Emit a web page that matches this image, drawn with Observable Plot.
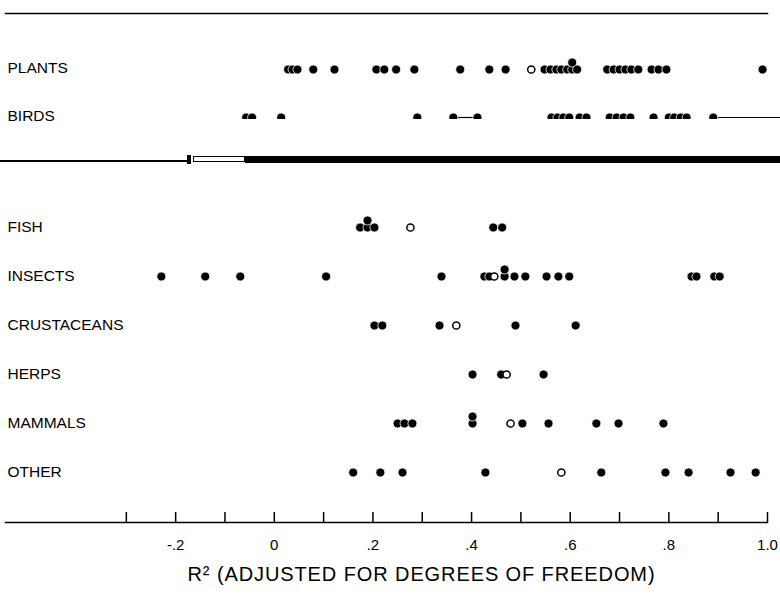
<!DOCTYPE html>
<html>
<head>
<meta charset="utf-8">
<script src="https://cdn.jsdelivr.net/npm/d3@7"></script>
<script src="https://cdn.jsdelivr.net/npm/@observablehq/plot@0.6"></script>
<style>
  html, body { margin: 0; padding: 0; background: #fff; }
  #wrap { width: 780px; height: 602px; position: relative; overflow: hidden; font-family: "Liberation Sans", Arial, sans-serif; }
  #brk { position: relative; width: 780px; height: 50px; }
  #brk div { position: absolute; background: #000; }
  svg { display: block; }
  #bottom svg > g:last-of-type text { letter-spacing: 0.9px; }
</style>
</head>
<body>
<div id="wrap">
  <div id="top"></div>
  <div id="brk">
    <div style="left:0;top:40px;width:187px;height:2px;"></div>
    <div style="left:187px;top:35px;width:4px;height:9px;"></div>
    <div style="left:193px;top:36px;width:52px;height:6px;background:#fff;border:1.5px solid #000;box-sizing:border-box;"></div>
    <div style="left:245px;top:36px;width:535px;height:7px;"></div>
  </div>
  <div id="bottom"></div>
</div>
<script>
// ---- data ----
const categories = ["PLANTS", "BIRDS", "FISH", "INSECTS", "CRUSTACEANS", "HERPS", "MAMMALS", "OTHER"];

const plantsFilled = [0.028, 0.037, 0.047, 0.079, 0.122, 0.207, 0.223, 0.247, 0.284, 0.377, 0.436, 0.469,
  0.548, 0.56, 0.572, 0.582, 0.594, 0.604, 0.614, 0.675, 0.688, 0.70, 0.712, 0.724, 0.738, 0.765, 0.779, 0.795, 0.99];
const plantsOpen = [0.521];
const plantsStacked = [0.604];

const birdsFilled = [-0.057, -0.045, 0.014, 0.29, 0.363, 0.412, 0.562, 0.574, 0.586, 0.598, 0.619, 0.633,
  0.68, 0.694, 0.708, 0.722, 0.769, 0.80, 0.811, 0.824, 0.836, 0.89];
const birdsOpen = [];
const birdsStacked = [];
// thin connecting lines visible on the (cut-off) BIRDS row: [from, to]
const birdsLineFrom = [0.363, 0.89];
const birdsLineTo = [0.412, 1.03];

const fishFilled = [0.174, 0.189, 0.203, 0.444, 0.462];
const fishOpen = [0.276];
const fishStacked = [0.189];

const insectsFilled = [-0.229, -0.14, -0.069, 0.105, 0.339, 0.426, 0.436, 0.467, 0.487, 0.509, 0.552, 0.576, 0.598,
  0.846, 0.856, 0.892, 0.903];
const insectsOpen = [0.446];
const insectsStacked = [0.467];

const crustaceansFilled = [0.203, 0.219, 0.335, 0.489, 0.611];
const crustaceansOpen = [0.369];
const crustaceansStacked = [];

const herpsFilled = [0.402, 0.46, 0.546];
const herpsOpen = [0.471];
const herpsStacked = [];

const mammalsFilled = [0.25, 0.264, 0.28, 0.402, 0.503, 0.556, 0.653, 0.698, 0.789];
const mammalsOpen = [0.479];
const mammalsStacked = [0.402];

const otherFilled = [0.16, 0.215, 0.26, 0.428, 0.663, 0.793, 0.84, 0.925, 0.976];
const otherOpen = [0.582];
const otherStacked = [];

const tickValues = [-0.3, -0.2, -0.1, 0, 0.1, 0.2, 0.3, 0.4, 0.5, 0.6, 0.7, 0.8, 0.9, 1.0];
const labelValues = [-0.2, 0, 0.2, 0.4, 0.6, 0.8, 1.0];
const labelTexts = ["-.2", "0", ".2", ".4", ".6", ".8", "1.0"];
const xTitle = "R\u00B2 (ADJUSTED FOR DEGREES OF FREEDOM)";

// ---- tables built from the arrays ----
const filledByCat = [plantsFilled, birdsFilled, fishFilled, insectsFilled, crustaceansFilled, herpsFilled, mammalsFilled, otherFilled];
const openByCat = [plantsOpen, birdsOpen, fishOpen, insectsOpen, crustaceansOpen, herpsOpen, mammalsOpen, otherOpen];
const stackedByCat = [plantsStacked, birdsStacked, fishStacked, insectsStacked, crustaceansStacked, herpsStacked, mammalsStacked, otherStacked];
const toRows = (arrs) => categories.flatMap((c, i) => arrs[i].map(v => ({cat: c, v})));
const filledRows = toRows(filledByCat);
const openRows = toRows(openByCat);
const stackedRows = toRows(stackedByCat);
const birdLines = birdsLineFrom.map((a, i) => ({cat: "BIRDS", x1: a, x2: birdsLineTo[i]}));
const labelMap = new Map(labelValues.map((v, i) => [v, labelTexts[i]]));

const topCats = categories.slice(0, 2);
const bottomCats = categories.slice(2);
const xDomain = [-0.545, 1.0];
const font = "Liberation Sans, Arial, sans-serif";
const labelSize = 15.5;

function dotMarks(cats, clip) {
  const inCats = d => cats.includes(d.cat);
  return [
    Plot.dot(filledRows.filter(inCats), {x: "v", y: "cat", r: 4.5, fill: "#000", stroke: "#fff", strokeWidth: 0.8, clip}),
    Plot.dot(stackedRows.filter(inCats), {x: "v", y: "cat", r: 4.5, dy: -7, fill: "#000", stroke: "#fff", strokeWidth: 0.8, clip}),
    Plot.dot(openRows.filter(inCats), {x: "v", y: "cat", r: 3.6, fill: "#fff", stroke: "#000", strokeWidth: 1.5, clip})
  ];
}

const topChart = Plot.plot({
  width: 780, height: 120,
  marginTop: 13, marginBottom: 1, marginLeft: 5, marginRight: 13,
  style: {fontFamily: font, background: "#fff", color: "#000", overflow: "visible"},
  x: {domain: xDomain, axis: null},
  y: {type: "point", domain: topCats, range: [69, 117], padding: 0, axis: null},
  marks: [
    Plot.frame({anchor: "top", stroke: "#000", strokeWidth: 1.5}),
    Plot.ruleY(birdLines, {y: "cat", x1: "x1", x2: "x2", stroke: "#000", strokeWidth: 1.2}),
    Plot.text(topCats, {y: d => d, text: d => d, frameAnchor: "left", textAnchor: "start", dx: 2, dy: -1, fontSize: labelSize, fill: "#000"}),
    ...dotMarks(topCats, true)
  ]
});
document.getElementById("top").appendChild(topChart);

const bottomChart = Plot.plot({
  width: 780, height: 432,
  marginTop: 20, marginBottom: 80, marginLeft: 5, marginRight: 13,
  style: {fontFamily: font, background: "#fff", color: "#000"},
  x: {domain: xDomain},
  y: {type: "point", domain: bottomCats, range: [56, 303], padding: 0, axis: null},
  marks: [
    Plot.frame({anchor: "bottom", stroke: "#000", strokeWidth: 1.5}),
    Plot.tickX(tickValues, {x: d => d, insetTop: 322, stroke: "#000", strokeWidth: 1.5}),
    Plot.axisX(labelValues, {tickSize: 0, tickPadding: 17, tickFormat: d => labelMap.get(d), fontSize: 15, fill: "#000", label: null}),
    Plot.text(bottomCats, {y: d => d, text: d => d, frameAnchor: "left", textAnchor: "start", dx: 2, fontSize: labelSize, fill: "#000"}),
    ...dotMarks(bottomCats, false),
    Plot.text([xTitle], {frameAnchor: "bottom", dy: 58, dx: 35, fontSize: 20, fill: "#000"})
  ]
});
document.getElementById("bottom").appendChild(bottomChart);
</script>
</body>
</html>
